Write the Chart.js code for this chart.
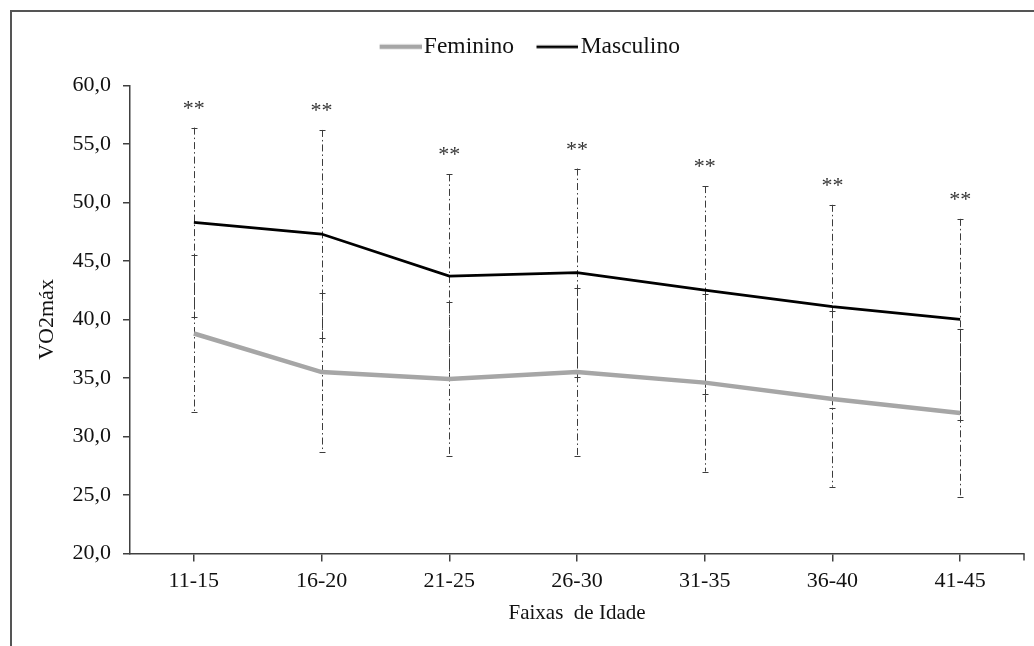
<!DOCTYPE html>
<html>
<head>
<meta charset="utf-8">
<script src="https://cdn.jsdelivr.net/npm/chart.js@4.4.1/dist/chart.umd.min.js"></script>
<style>
  html, body { margin: 0; padding: 0; background: #ffffff; }
  #wrap { width: 1034px; height: 646px; position: relative; }
</style>
</head>
<body>
<div id="wrap"><canvas id="chart" width="1034" height="646"></canvas></div>
<script>
// Age groups on the x axis
const faixas = ['11-15', '16-20', '21-25', '26-30', '31-35', '36-40', '41-45'];

// Mean VO2max by age group
const feminino = [38.8, 35.5, 34.9, 35.5, 34.6, 33.2, 32.0];
const masculino = [48.3, 47.3, 43.7, 44.0, 42.5, 41.1, 40.0];

// Standard deviations (error bars)
const dpFeminino = [6.75, 6.8, 6.6, 7.15, 7.6, 7.5, 7.2];
const dpMasculino = [8.1, 8.9, 8.7, 8.9, 8.9, 8.7, 8.6];

// Significance markers above each group
const significancia = ['**', '**', '**', '**', '**', '**', '**'];

// Y axis range and step
const yMin = 20, yMax = 60, yStep = 5;

const serif = "'Liberation Serif', 'Times New Roman', serif";
const axisColor = '#404040';

// Legend swatch: a line shifted right so it sits close to its text
function legendLine(color, width) {
  const c = document.createElement('canvas');
  c.width = 49; c.height = 8;
  const g = c.getContext('2d');
  g.strokeStyle = color;
  g.lineWidth = width;
  g.beginPath();
  g.moveTo(7, 4);
  g.lineTo(49, 4);
  g.stroke();
  return c;
}

const errorBarsPlugin = {
  id: 'errorBars',
  beforeLayout(chart) {
    // extra room between the legend and the plot
    const lg = chart.legend;
    if (lg && !lg._extraRoom) {
      const fit = lg.fit.bind(lg);
      lg.fit = function () { fit(); this.height += 17; };
      lg._extraRoom = true;
    }
  },
  afterLayout(chart) {
    // nudge the legend a little to the right
    const lg = chart.legend;
    if (lg) { lg.left += 4; lg.right += 4; }
  },
  beforeDraw(chart) {
    const ctx = chart.ctx;
    ctx.save();
    ctx.fillStyle = '#ffffff';
    ctx.fillRect(0, 0, chart.width, chart.height);
    // outer frame
    ctx.strokeStyle = '#555555';
    ctx.lineWidth = 2;
    ctx.strokeRect(11, 11, chart.width + 20, chart.height + 20);
    ctx.restore();
  },
  beforeDatasetsDraw(chart) {
    const ctx = chart.ctx;
    const xs = chart.scales.x, ys = chart.scales.y;
    const groups = [
      { mean: masculino, sd: dpMasculino },
      { mean: feminino, sd: dpFeminino }
    ];
    ctx.save();
    ctx.strokeStyle = '#3c3c3c';
    ctx.lineWidth = 1;
    groups.forEach(g => {
      g.mean.forEach((m, i) => {
        const x = Math.round(xs.getPixelForValue(i)) + 0.5;
        const yTop = ys.getPixelForValue(m + g.sd[i]);
        const yBot = ys.getPixelForValue(m - g.sd[i]);
        ctx.setLineDash([7, 3, 1.5, 3]);
        ctx.beginPath();
        ctx.moveTo(x, yTop);
        ctx.lineTo(x, yBot);
        ctx.stroke();
        ctx.setLineDash([]);
        ctx.beginPath();
        ctx.moveTo(x - 3, Math.round(yTop) + 0.5);
        ctx.lineTo(x + 3, Math.round(yTop) + 0.5);
        ctx.moveTo(x - 3, Math.round(yBot) + 0.5);
        ctx.lineTo(x + 3, Math.round(yBot) + 0.5);
        ctx.stroke();
      });
    });
    // significance markers above the upper male bar
    ctx.fillStyle = '#333333';
    ctx.font = '22px ' + serif;
    ctx.textAlign = 'center';
    ctx.textBaseline = 'alphabetic';
    significancia.forEach((s, i) => {
      const x = xs.getPixelForValue(i);
      const yTop = ys.getPixelForValue(masculino[i] + dpMasculino[i]);
      ctx.fillText(s, x, yTop - 13);
    });
    ctx.restore();
  },
  afterDraw(chart) {
    // closing tick at the right end of the x axis
    const ctx = chart.ctx;
    const a = chart.chartArea;
    ctx.save();
    ctx.strokeStyle = axisColor;
    ctx.lineWidth = 1.5;
    ctx.beginPath();
    ctx.moveTo(a.right, a.bottom);
    ctx.lineTo(a.right, a.bottom + 7);
    ctx.stroke();
    ctx.restore();
  }
};

new Chart(document.getElementById('chart'), {
  type: 'line',
  data: {
    labels: faixas,
    datasets: [
      {
        label: 'Feminino',
        data: feminino,
        borderColor: '#a6a6a6',
        backgroundColor: '#a6a6a6',
        borderWidth: 4.5,
        pointRadius: 0,
        tension: 0
      },
      {
        label: 'Masculino',
        data: masculino,
        borderColor: '#000000',
        backgroundColor: '#000000',
        borderWidth: 2.75,
        pointRadius: 0,
        tension: 0
      }
    ]
  },
  options: {
    responsive: false,
    animation: false,
    devicePixelRatio: 1,
    layout: { padding: { left: 30, right: 10, top: 10, bottom: 20 } },
    plugins: {
      tooltip: { enabled: false },
      legend: {
        position: 'top',
        labels: {
          usePointStyle: true,
          pointStyleWidth: 30,
          padding: 25,
          color: '#111111',
          font: { family: serif, size: 23.5 },
          generateLabels(chart) {
            return chart.data.datasets.map((ds, i) => ({
              text: ds.label,
              fillStyle: ds.borderColor,
              strokeStyle: ds.borderColor,
              lineWidth: 0,
              pointStyle: legendLine(ds.borderColor, ds.borderWidth),
              datasetIndex: i,
              hidden: false,
              fontColor: '#111111'
            }));
          }
        }
      }
    },
    scales: {
      x: {
        offset: true,
        grid: {
          offset: false,
          drawOnChartArea: false,
          drawTicks: true,
          tickLength: 8,
          color: axisColor,
          lineWidth: 1.5
        },
        border: { display: true, color: axisColor, width: 1.5 },
        ticks: {
          color: '#111111',
          font: { family: serif, size: 22 },
          padding: 7,
          maxRotation: 0
        },
        title: {
          display: true,
          text: 'Faixas  de Idade',
          color: '#111111',
          font: { family: serif, size: 21 },
          padding: { top: -1, bottom: 0 }
        }
      },
      y: {
        min: yMin,
        max: yMax,
        afterFit(scale) { scale.width = 100; },
        grid: {
          drawOnChartArea: false,
          drawTicks: true,
          tickLength: 7,
          color: axisColor,
          lineWidth: 1.5
        },
        border: { display: true, color: axisColor, width: 1.5 },
        ticks: {
          stepSize: yStep,
          color: '#111111',
          padding: 12,
          font: { family: serif, size: 22 },
          callback: v => v.toFixed(1).replace('.', ',')
        },
        title: {
          display: true,
          text: 'VO2máx',
          color: '#111111',
          font: { family: serif, size: 22 },
          padding: { top: 4, bottom: 4 }
        }
      }
    }
  },
  plugins: [errorBarsPlugin]
});
</script>
</body>
</html>
